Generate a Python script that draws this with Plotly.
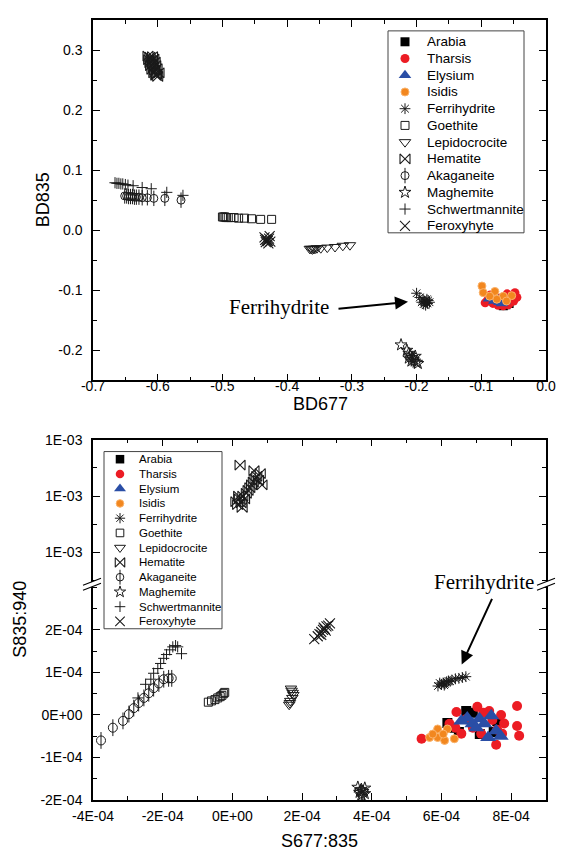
import plotly.graph_objects as go

# ---------------- Top panel data: BD677 (x) vs BD835 (y) ----------------
arabia_bd677 = [-0.062, -0.057, -0.066, -0.070]
arabia_bd835 = [-0.124, -0.122, -0.126, -0.123]
tharsis_bd677 = [-0.094, -0.090, -0.082, -0.074, -0.066, -0.058, -0.050, -0.048, -0.045, -0.070, -0.086, -0.060, -0.055]
tharsis_bd835 = [-0.121, -0.116, -0.122, -0.125, -0.126, -0.124, -0.118, -0.104, -0.112, -0.113, -0.108, -0.106, -0.120]
elysium_bd677 = [-0.088, -0.080, -0.072, -0.064, -0.076, -0.068]
elysium_bd835 = [-0.114, -0.118, -0.120, -0.118, -0.113, -0.122]
isidis_bd677 = [-0.099, -0.097, -0.079, -0.066, -0.053, -0.076, -0.061, -0.087]
isidis_bd835 = [-0.093, -0.104, -0.102, -0.110, -0.109, -0.115, -0.118, -0.110]

ferrihydrite_bd677 = [-0.200, -0.195, -0.190, -0.188, -0.185, -0.183, -0.186, -0.180, -0.192, -0.182, -0.189, -0.184]
ferrihydrite_bd835 = [-0.105, -0.112, -0.115, -0.118, -0.120, -0.122, -0.125, -0.120, -0.120, -0.117, -0.123, -0.115]
goethite_bd677 = [-0.500, -0.498, -0.496, -0.494, -0.491, -0.487, -0.482, -0.475, -0.466, -0.455, -0.441, -0.424]
goethite_bd835 = [0.022, 0.022, 0.022, 0.021, 0.021, 0.021, 0.021, 0.020, 0.020, 0.019, 0.018, 0.018]
lepidocrocite_bd677 = [-0.365, -0.363, -0.361, -0.359, -0.357, -0.354, -0.348, -0.338, -0.326, -0.314, -0.303]
lepidocrocite_bd835 = [-0.031, -0.031, -0.032, -0.031, -0.031, -0.030, -0.030, -0.029, -0.028, -0.026, -0.025]
hematite_bd677 = [-0.615, -0.612, -0.608, -0.614, -0.610, -0.606, -0.612, -0.608, -0.604, -0.611,
                  -0.607, -0.603, -0.609, -0.605, -0.601, -0.606, -0.602, -0.598, -0.600, -0.603]
hematite_bd835 = [0.290, 0.288, 0.289, 0.284, 0.283, 0.285, 0.279, 0.277, 0.280, 0.274,
                  0.272, 0.274, 0.268, 0.266, 0.269, 0.262, 0.260, 0.262, 0.256, 0.258]
akaganeite_bd677 = [-0.651, -0.648, -0.645, -0.642, -0.639, -0.636, -0.633, -0.629, -0.624, -0.616, -0.606, -0.589, -0.564]
akaganeite_bd835 = [0.057, 0.057, 0.056, 0.056, 0.056, 0.055, 0.055, 0.055, 0.054, 0.054, 0.053, 0.053, 0.050]
maghemite_bd677 = [-0.224, -0.215, -0.212, -0.210, -0.207, -0.205, -0.203, -0.200, -0.198, -0.208, -0.202, -0.212]
maghemite_bd835 = [-0.191, -0.200, -0.205, -0.208, -0.212, -0.215, -0.218, -0.220, -0.222, -0.218, -0.210, -0.213]
schwertmannite_bd677 = [-0.666, -0.663, -0.660, -0.657, -0.654, -0.650, -0.646, -0.638, -0.624, -0.610, -0.586, -0.561]
schwertmannite_bd835 = [0.079, 0.078, 0.078, 0.077, 0.077, 0.076, 0.075, 0.074, 0.071, 0.069, 0.063, 0.058]
feroxyhyte_bd677 = [-0.435, -0.432, -0.430, -0.428, -0.433, -0.427, -0.431, -0.429, -0.434, -0.426]
feroxyhyte_bd835 = [-0.012, -0.015, -0.018, -0.014, -0.020, -0.010, -0.017, -0.022, -0.016, -0.019]

# ---------------- Bottom panel data: S677:835 (x) vs S835:940 (y) ----------------
arabia_s677 = [6.17e-4, 6.71e-4, 6.30e-4, 6.90e-4, 7.50e-4, 7.60e-4, 6.50e-4, 7.10e-4]
arabia_s835 = [-0.19e-4, 0.09e-4, -0.30e-4, 0.05e-4, -0.40e-4, -0.15e-4, -0.40e-4, -0.45e-4]
tharsis_s677 = [5.43e-4, 6.43e-4, 6.23e-4, 6.57e-4, 7.03e-4, 7.37e-4, 7.71e-4, 7.57e-4, 7.14e-4, 7.74e-4,
                7.46e-4, 8.17e-4, 8.17e-4, 8.23e-4, 6.90e-4, 7.60e-4, 6.40e-4, 7.80e-4, 7.20e-4, 6.70e-4]
tharsis_s835 = [-0.56e-4, 0.07e-4, -0.21e-4, -0.44e-4, 0.19e-4, 0.09e-4, 0.00e-4, -0.70e-4, -0.44e-4, -0.44e-4,
                -0.12e-4, 0.21e-4, -0.26e-4, -0.49e-4, -0.30e-4, -0.35e-4, -0.30e-4, -0.20e-4, 0.05e-4, -0.10e-4]
elysium_s677 = [6.74e-4, 7.09e-4, 7.43e-4, 6.89e-4, 7.23e-4, 7.57e-4, 7.34e-4, 6.57e-4, 7.00e-4, 7.70e-4]
elysium_s835 = [-0.07e-4, -0.09e-4, -0.02e-4, -0.21e-4, -0.21e-4, -0.37e-4, -0.53e-4, -0.14e-4, -0.30e-4, -0.50e-4]
isidis_s677 = [5.66e-4, 5.89e-4, 5.89e-4, 6.09e-4, 6.17e-4, 6.37e-4, 5.75e-4, 6.05e-4]
isidis_s835 = [-0.53e-4, -0.33e-4, -0.53e-4, -0.60e-4, -0.33e-4, -0.56e-4, -0.45e-4, -0.45e-4]

ferrihydrite_s677 = [5.90e-4, 6.00e-4, 6.05e-4, 6.10e-4, 6.15e-4, 6.20e-4, 6.25e-4, 6.30e-4, 6.40e-4, 6.50e-4, 6.60e-4, 6.70e-4, 5.95e-4, 6.08e-4]
ferrihydrite_s835 = [0.68e-4, 0.72e-4, 0.75e-4, 0.73e-4, 0.78e-4, 0.80e-4, 0.79e-4, 0.82e-4, 0.85e-4, 0.86e-4, 0.88e-4, 0.90e-4, 0.75e-4, 0.70e-4]
goethite_s677 = [-0.69e-4, -0.60e-4, -0.50e-4, -0.42e-4, -0.35e-4, -0.30e-4, -0.25e-4, -0.22e-4]
goethite_s835 = [0.30e-4, 0.33e-4, 0.36e-4, 0.40e-4, 0.43e-4, 0.46e-4, 0.50e-4, 0.53e-4]
lepidocrocite_s677 = [1.68e-4, 1.70e-4, 1.73e-4, 1.75e-4, 1.72e-4, 1.66e-4, 1.63e-4, 1.65e-4]
lepidocrocite_s835 = [0.62e-4, 0.57e-4, 0.52e-4, 0.47e-4, 0.40e-4, 0.33e-4, 0.24e-4, 0.28e-4]
hematite_s677 = [0.10e-4, 0.15e-4, 0.20e-4, 0.25e-4, 0.30e-4, 0.18e-4, 0.35e-4, 0.40e-4, 0.28e-4, 0.45e-4,
                 0.50e-4, 0.55e-4, 0.60e-4, 0.65e-4, 0.70e-4, 0.75e-4, 0.80e-4, 0.62e-4, 0.85e-4, 0.22e-4]
hematite_s835 = [1.090e-3, 1.085e-3, 1.095e-3, 1.088e-3, 1.100e-3, 1.100e-3, 1.095e-3, 1.105e-3, 1.080e-3, 1.110e-3,
                 1.115e-3, 1.120e-3, 1.125e-3, 1.130e-3, 1.135e-3, 1.128e-3, 1.140e-3, 1.145e-3, 1.120e-3, 1.155e-3]
akaganeite_s677 = [-3.77e-4, -3.43e-4, -3.14e-4, -2.97e-4, -2.83e-4, -2.69e-4, -2.54e-4, -2.40e-4, -2.26e-4, -2.11e-4, -1.97e-4, -1.83e-4, -1.74e-4]
akaganeite_s835 = [-0.60e-4, -0.30e-4, -0.14e-4, 0.02e-4, 0.16e-4, 0.28e-4, 0.40e-4, 0.51e-4, 0.63e-4, 0.74e-4, 0.84e-4, 0.86e-4, 0.86e-4]
maghemite_s677 = [3.60e-4, 3.70e-4, 3.80e-4, 3.75e-4, 3.65e-4, 3.70e-4, 3.80e-4, 3.72e-4, 3.68e-4]
maghemite_s835 = [-1.70e-4, -1.75e-4, -1.72e-4, -1.80e-4, -1.82e-4, -1.88e-4, -1.85e-4, -1.92e-4, -1.78e-4]
schwertmannite_s677 = [-2.71e-4, -2.49e-4, -2.34e-4, -2.26e-4, -2.14e-4, -2.06e-4, -1.97e-4, -1.89e-4, -1.80e-4, -1.71e-4, -1.63e-4, -1.57e-4, -1.46e-4]
schwertmannite_s835 = [0.40e-4, 0.72e-4, 0.84e-4, 0.98e-4, 1.09e-4, 1.21e-4, 1.33e-4, 1.42e-4, 1.53e-4, 1.60e-4, 1.63e-4, 1.60e-4, 1.44e-4]
feroxyhyte_s677 = [2.35e-4, 2.45e-4, 2.50e-4, 2.55e-4, 2.60e-4, 2.65e-4, 2.70e-4, 2.75e-4, 2.80e-4, 2.62e-4, 2.55e-4, 2.68e-4]
feroxyhyte_s835 = [1.78e-4, 1.85e-4, 1.90e-4, 1.95e-4, 2.00e-4, 2.02e-4, 2.08e-4, 2.10e-4, 2.15e-4, 2.05e-4, 1.88e-4, 1.98e-4]

# ---------------- Tick labels ----------------
top_x_ticks = [-0.7, -0.6, -0.5, -0.4, -0.3, -0.2, -0.1, 0.0]
top_x_labels = ["-0.7", "-0.6", "-0.5", "-0.4", "-0.3", "-0.2", "-0.1", "0.0"]
top_y_ticks = [-0.2, -0.1, 0.0, 0.1, 0.2, 0.3]
top_y_labels = ["-0.2", "-0.1", "0.0", "0.1", "0.2", "0.3"]
bot_x_ticks = [-4e-4, -2e-4, 0.0, 2e-4, 4e-4, 6e-4, 8e-4]
bot_x_labels = ["-4E-04", "-2E-04", "0E+00", "2E-04", "4E-04", "6E-04", "8E-04"]
bot_y_ticks = [-2e-4, -1e-4, 0.0, 1e-4, 2e-4]
bot_y_labels = ["-2E-04", "-1E-04", "0E+00", "1E-04", "2E-04"]
upper_y_ticks = [1.0e-3, 1.1e-3, 1.2e-3]
upper_y_labels = ["1E-03", "1E-03", "1E-03"]

names = ["Arabia", "Tharsis", "Elysium", "Isidis", "Ferrihydrite", "Goethite", "Lepidocrocite",
         "Hematite", "Akaganeite", "Maghemite", "Schwertmannite", "Feroxyhyte"]

LINE = "#1a1a1a"
styles = {
    "Arabia": dict(symbol="square", color="#000000", size=9, line=dict(width=0)),
    "Tharsis": dict(symbol="circle", color="#ec1c24", size=9, line=dict(width=0)),
    "Elysium": dict(symbol="triangle-up", color="#2a4ea6", size=11, line=dict(width=0)),
    "Isidis": dict(symbol="circle", color="#f2871f", size=8, line=dict(width=1, color="#fbb36b")),
    "Ferrihydrite": dict(symbol="asterisk-open", color=LINE, size=9, line=dict(width=1, color=LINE)),
    "Goethite": dict(symbol="square-open", color=LINE, size=8, line=dict(width=1, color=LINE)),
    "Lepidocrocite": dict(symbol="triangle-down-open", color=LINE, size=10, line=dict(width=1, color=LINE)),
    "Hematite": dict(symbol="bowtie-open", color=LINE, size=10, line=dict(width=1.1, color=LINE)),
    "Akaganeite": dict(symbol="circle-open", color=LINE, size=8, line=dict(width=1, color=LINE)),
    "Maghemite": dict(symbol="star-open", color=LINE, size=9, line=dict(width=1, color=LINE)),
    "Schwertmannite": dict(symbol="cross-thin-open", color=LINE, size=8, line=dict(width=1, color=LINE)),
    "Feroxyhyte": dict(symbol="x-thin-open", color=LINE, size=10, line=dict(width=1.1, color=LINE)),
}
bottom_sizes = {"Tharsis": 10, "Elysium": 14, "Akaganeite": 9, "Arabia": 10}

top_data = {
    "Arabia": (arabia_bd677, arabia_bd835), "Tharsis": (tharsis_bd677, tharsis_bd835),
    "Elysium": (elysium_bd677, elysium_bd835), "Isidis": (isidis_bd677, isidis_bd835),
    "Ferrihydrite": (ferrihydrite_bd677, ferrihydrite_bd835), "Goethite": (goethite_bd677, goethite_bd835),
    "Lepidocrocite": (lepidocrocite_bd677, lepidocrocite_bd835), "Hematite": (hematite_bd677, hematite_bd835),
    "Akaganeite": (akaganeite_bd677, akaganeite_bd835), "Maghemite": (maghemite_bd677, maghemite_bd835),
    "Schwertmannite": (schwertmannite_bd677, schwertmannite_bd835), "Feroxyhyte": (feroxyhyte_bd677, feroxyhyte_bd835),
}
bot_data = {
    "Arabia": (arabia_s677, arabia_s835), "Tharsis": (tharsis_s677, tharsis_s835),
    "Elysium": (elysium_s677, elysium_s835), "Isidis": (isidis_s677, isidis_s835),
    "Ferrihydrite": (ferrihydrite_s677, ferrihydrite_s835), "Goethite": (goethite_s677, goethite_s835),
    "Lepidocrocite": (lepidocrocite_s677, lepidocrocite_s835), "Hematite": (hematite_s677, hematite_s835),
    "Akaganeite": (akaganeite_s677, akaganeite_s835), "Maghemite": (maghemite_s677, maghemite_s835),
    "Schwertmannite": (schwertmannite_s677, schwertmannite_s835), "Feroxyhyte": (feroxyhyte_s677, feroxyhyte_s835),
}
bot_upper = {"Hematite"}

fig = go.Figure()


def add(name, xs, ys, xa, ya, size=None):
    st = dict(styles[name])
    if size is not None:
        st["size"] = size
    fig.add_trace(go.Scatter(x=xs, y=ys, mode="markers", name=name, xaxis=xa, yaxis=ya,
                             showlegend=False, marker=st))
    if name == "Akaganeite":
        fig.add_trace(go.Scatter(x=xs, y=ys, mode="markers", showlegend=False, xaxis=xa, yaxis=ya,
                                 hoverinfo="skip",
                                 marker=dict(symbol="line-ns-open", size=st["size"] + 3, color=LINE,
                                             line=dict(width=1, color=LINE))))


for n in names:
    add(n, top_data[n][0], top_data[n][1], "x", "y")
for n in names:
    ya = ("x3", "y3") if n in bot_upper else ("x2", "y2")
    add(n, bot_data[n][0], bot_data[n][1], ya[0], ya[1], bottom_sizes.get(n))

# ---------------- Layout geometry (screen pixels of the plot frame) ----------------
L, R, T, B = 93, 546, 12, 800          # outer frame of both panels
OFF = 8                                # page body offset


def px(xp):
    return (xp - L) / (R - L)


def py(yp):
    return (B - yp) / (B - T)


FONT = "Liberation Sans, Arial, sans-serif"
tickfont = dict(family=FONT, size=14, color="#000")
common = dict(showgrid=False, zeroline=False, showline=True, linecolor="#000", linewidth=1.5,
              ticks="inside", ticklen=7, tickwidth=1.2, tickcolor="#000", tickfont=tickfont)


def minor(d):
    return dict(tickmode="linear", tick0=0, dtick=d, ticks="inside", ticklen=4, tickcolor="#000")


H_TOP = py(376)
BREAK = py(583)
H_BOT = py(436)

fig.update_layout(
    width=565, height=852, plot_bgcolor="rgba(0,0,0,0)", paper_bgcolor="white",
    margin=dict(l=L - OFF, r=565 + OFF - R, t=T - OFF, b=852 + OFF - B),
    font=dict(family=FONT, color="#000"),
    showlegend=False,
    xaxis=dict(domain=[0, 1], anchor="y", range=[-0.7, 0.0], tickmode="array", tickvals=top_x_ticks,
               ticktext=top_x_labels, mirror="ticks", ticklabelstandoff=-8, minor=minor(0.05), **common),
    yaxis=dict(domain=[H_TOP, 1], anchor="x", range=[-0.25, 0.35], tickmode="array", tickvals=top_y_ticks,
               ticktext=top_y_labels, mirror="ticks", ticklabelstandoff=6, minor=minor(0.05), **common),
    xaxis2=dict(domain=[0, 1], anchor="y2", range=[-4e-4, 9e-4], tickmode="array", tickvals=bot_x_ticks,
                ticktext=bot_x_labels, ticklabelstandoff=2, minor=minor(1e-4), **common),
    xaxis3=dict(domain=[0, 1], anchor="y3", matches="x2", side="top", showticklabels=False,
                range=[-4e-4, 9e-4], tickmode="array", tickvals=bot_x_ticks, minor=minor(1e-4), **common),
    yaxis2=dict(domain=[0, BREAK], anchor="x2", range=[-2e-4, 3.05e-4], tickmode="array", tickvals=bot_y_ticks,
                ticktext=bot_y_labels, mirror="ticks", ticklabelstandoff=6, minor=minor(0.5e-4), **common),
    yaxis3=dict(domain=[BREAK, H_BOT], anchor="x3", range=[0.942e-3, 1.2e-3], tickmode="array",
                tickvals=upper_y_ticks, ticktext=upper_y_labels, mirror="ticks", ticklabelstandoff=6,
                minor=minor(0.05e-3), **common),
    # helper axes in frame pixels, used only to place the legend glyphs
    xaxis4=dict(domain=[0, 1], anchor="y4", range=[L, R], visible=False, fixedrange=True),
    yaxis4=dict(domain=[0, 1], anchor="x4", range=[B, T], visible=False, fixedrange=True),
)

# ---------------- Custom legends (glyph + real text) ----------------
legend_specs = [
    dict(box=(388, 524, 23, 227), y0=34.0, dy=16.9, mx=405, tx=425, font=13.5, scale=1.0),
    dict(box=(104, 222, 448, 627), y0=455.7, dy=14.9, mx=120, tx=137, font=11.5, scale=0.95),
]
annotations = []
shapes = []
for spec in legend_specs:
    x0, x1, y0b, y1b = spec["box"]
    shapes.append(dict(type="rect", xref="paper", yref="paper", x0=px(x0), x1=px(x1), y0=py(y1b), y1=py(y0b),
                       line=dict(color="#444", width=1), fillcolor="rgba(0,0,0,0)", layer="above"))
    for i, n in enumerate(names):
        yy = spec["y0"] + spec["dy"] * i
        st = dict(styles[n])
        st["size"] = st["size"] * spec["scale"]
        fig.add_trace(go.Scatter(x=[spec["mx"]], y=[yy], mode="markers", xaxis="x4", yaxis="y4",
                                 showlegend=False, hoverinfo="skip", marker=st))
        if n == "Akaganeite":
            fig.add_trace(go.Scatter(x=[spec["mx"]], y=[yy], mode="markers", xaxis="x4", yaxis="y4",
                                     showlegend=False, hoverinfo="skip",
                                     marker=dict(symbol="line-ns-open", size=st["size"] + 3, color=LINE,
                                                 line=dict(width=1, color=LINE))))
        annotations.append(dict(text=n, x=px(spec["tx"]), y=py(yy), xref="paper", yref="paper",
                                xanchor="left", yanchor="middle", showarrow=False,
                                font=dict(family=FONT, size=spec["font"], color="#000")))

title_font = dict(family=FONT, size=18, color="#000")
serif = dict(family="Liberation Serif, Times New Roman, serif", size=21, color="#000")
ctr = dict(xref="paper", yref="paper", showarrow=False, xanchor="center", yanchor="middle")
annotations += [
    dict(text="BD677", x=px(320), y=py(400), font=title_font, **ctr),
    dict(text="BD835", x=px(43), y=py(194), font=title_font, textangle=-90, **ctr),
    dict(text="S677:835", x=px(319), y=py(841), font=title_font, **ctr),
    dict(text="S835:940", x=px(20), y=py(618), font=title_font, textangle=-90, **ctr),
    dict(text="Ferrihydrite", x=px(279), y=py(302), font=serif, **ctr),
    dict(text="Ferrihydrite", x=px(484), y=py(580), font=serif, **ctr),
    dict(text="", x=px(408), y=py(296.7), xref="paper", yref="paper", showarrow=True, ax=-71, ay=7,
         arrowhead=2, arrowsize=1.3, arrowwidth=2, arrowcolor="#000"),
    dict(text="", x=px(461.7), y=py(663), xref="paper", yref="paper", showarrow=True, ax=31, ay=-67,
         arrowhead=2, arrowsize=1.3, arrowwidth=2, arrowcolor="#000"),
]

# axis-break marks on the bottom panel
for xa in (px(92), px(546)):
    cs = dict(xref="paper", yref="paper", xsizemode="pixel", ysizemode="pixel",
              xanchor=xa, yanchor=BREAK, layer="above")
    shapes.append(dict(type="path", path="M -9,-5 L 9,2 L 9,7 L -9,0 Z", fillcolor="white",
                       line=dict(width=0), **cs))
    shapes.append(dict(type="line", x0=-9, y0=-5, x1=9, y1=2, line=dict(color="#000", width=1.2), **cs))
    shapes.append(dict(type="line", x0=-9, y0=0, x1=9, y1=7, line=dict(color="#000", width=1.2), **cs))

fig.update_layout(annotations=annotations, shapes=shapes)

fig.write_html("out.html")
